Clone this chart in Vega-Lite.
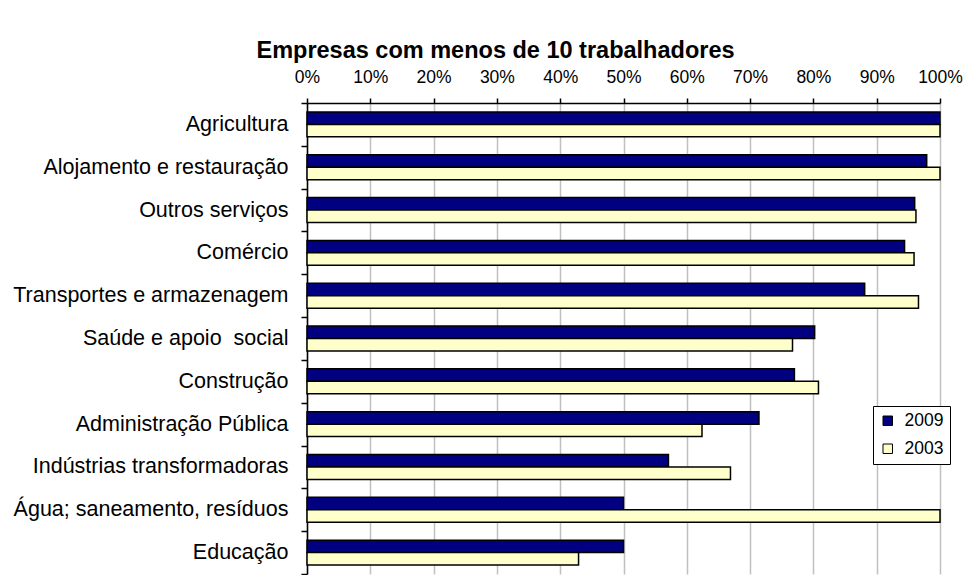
{
  "$schema": "https://vega.github.io/schema/vega-lite/v6.json",
  "autosize": {"type": "none"},
  "width": 633,
  "height": 471,
  "padding": {"left": 307, "top": 103, "right": 26, "bottom": 1},
  "background": "white",
  "title": {
    "text": "Empresas com menos de 10 trabalhadores",
    "font": "Liberation Sans",
    "fontSize": 23.5,
    "fontWeight": "bold",
    "color": "black",
    "anchor": "middle",
    "dx": -128,
    "offset": 6
  },
  "data": {
    "values": [
      {"sector": "Agricultura", "year": "2009", "value": 100},
      {"sector": "Agricultura", "year": "2003", "value": 100},
      {"sector": "Alojamento e restauração\u00a0", "year": "2009", "value": 97.9},
      {"sector": "Alojamento e restauração\u00a0", "year": "2003", "value": 100},
      {"sector": "Outros serviços", "year": "2009", "value": 96.0},
      {"sector": "Outros serviços", "year": "2003", "value": 96.2},
      {"sector": "Comércio", "year": "2009", "value": 94.4},
      {"sector": "Comércio", "year": "2003", "value": 95.9},
      {"sector": "Transportes e armazenagem", "year": "2009", "value": 88.1},
      {"sector": "Transportes e armazenagem", "year": "2003", "value": 96.6},
      {"sector": "Saúde e apoio\u00a0 social", "year": "2009", "value": 80.2},
      {"sector": "Saúde e apoio\u00a0 social", "year": "2003", "value": 76.7},
      {"sector": "Construção", "year": "2009", "value": 77.0},
      {"sector": "Construção", "year": "2003", "value": 80.8},
      {"sector": "Administração Pública", "year": "2009", "value": 71.4},
      {"sector": "Administração Pública", "year": "2003", "value": 62.4},
      {"sector": "Indústrias transformadoras", "year": "2009", "value": 57.1},
      {"sector": "Indústrias transformadoras", "year": "2003", "value": 66.9},
      {"sector": "Água; saneamento, resíduos", "year": "2009", "value": 50.0},
      {"sector": "Água; saneamento, resíduos", "year": "2003", "value": 100},
      {"sector": "Educação", "year": "2009", "value": 50.0},
      {"sector": "Educação", "year": "2003", "value": 42.9}
    ]
  },
  "mark": {"type": "bar", "stroke": "black", "strokeWidth": 1.5},
  "encoding": {
    "y": {
      "field": "sector",
      "type": "nominal",
      "sort": null,
      "title": null,
      "scale": {"paddingInner": 0, "paddingOuter": 0},
      "axis": {
        "orient": "left",
        "tickBand": "extent",
        "domainColor": "black",
        "domainWidth": 1.5,
        "tickColor": "black",
        "tickWidth": 1.5,
        "tickSize": 6,
        "labelPadding": 13,
        "labelLimit": 400,
        "labelFont": "Liberation Sans",
        "labelFontSize": 21.5,
        "labelColor": "black",
        "grid": false
      }
    },
    "yOffset": {
      "field": "year",
      "type": "nominal",
      "sort": ["2009", "2003"],
      "scale": {"paddingInner": 0, "paddingOuter": 0.72}
    },
    "x": {
      "field": "value",
      "type": "quantitative",
      "title": null,
      "scale": {"domain": [0, 100], "nice": false},
      "axis": {
        "orient": "top",
        "values": [0, 10, 20, 30, 40, 50, 60, 70, 80, 90, 100],
        "labelExpr": "datum.value + '%'",
        "labelOverlap": false,
        "labelFlush": false,
        "domainColor": "black",
        "domainWidth": 1.5,
        "tickColor": "black",
        "tickWidth": 1.5,
        "tickSize": 5,
        "labelPadding": 12,
        "labelFont": "Liberation Sans",
        "labelFontSize": 17.5,
        "labelColor": "black",
        "grid": true,
        "gridColor": "#c0c0c0",
        "gridWidth": 1.5
      }
    },
    "color": {
      "field": "year",
      "type": "nominal",
      "scale": {"domain": ["2009", "2003"], "range": ["#000080", "#FFFFCC"]},
      "legend": {
        "title": null,
        "orient": "none",
        "legendX": 566,
        "legendY": 303,
        "fillColor": "white",
        "strokeColor": "black",
        "padding": 6,
        "symbolType": "square",
        "symbolSize": 90,
        "symbolStrokeColor": "black",
        "symbolStrokeWidth": 1,
        "symbolOpacity": 1,
        "labelFont": "Liberation Sans",
        "labelFontSize": 17.5,
        "labelColor": "black",
        "labelOffset": 8,
        "rowPadding": 9
      }
    }
  },
  "config": {"view": {"stroke": null}}
}
